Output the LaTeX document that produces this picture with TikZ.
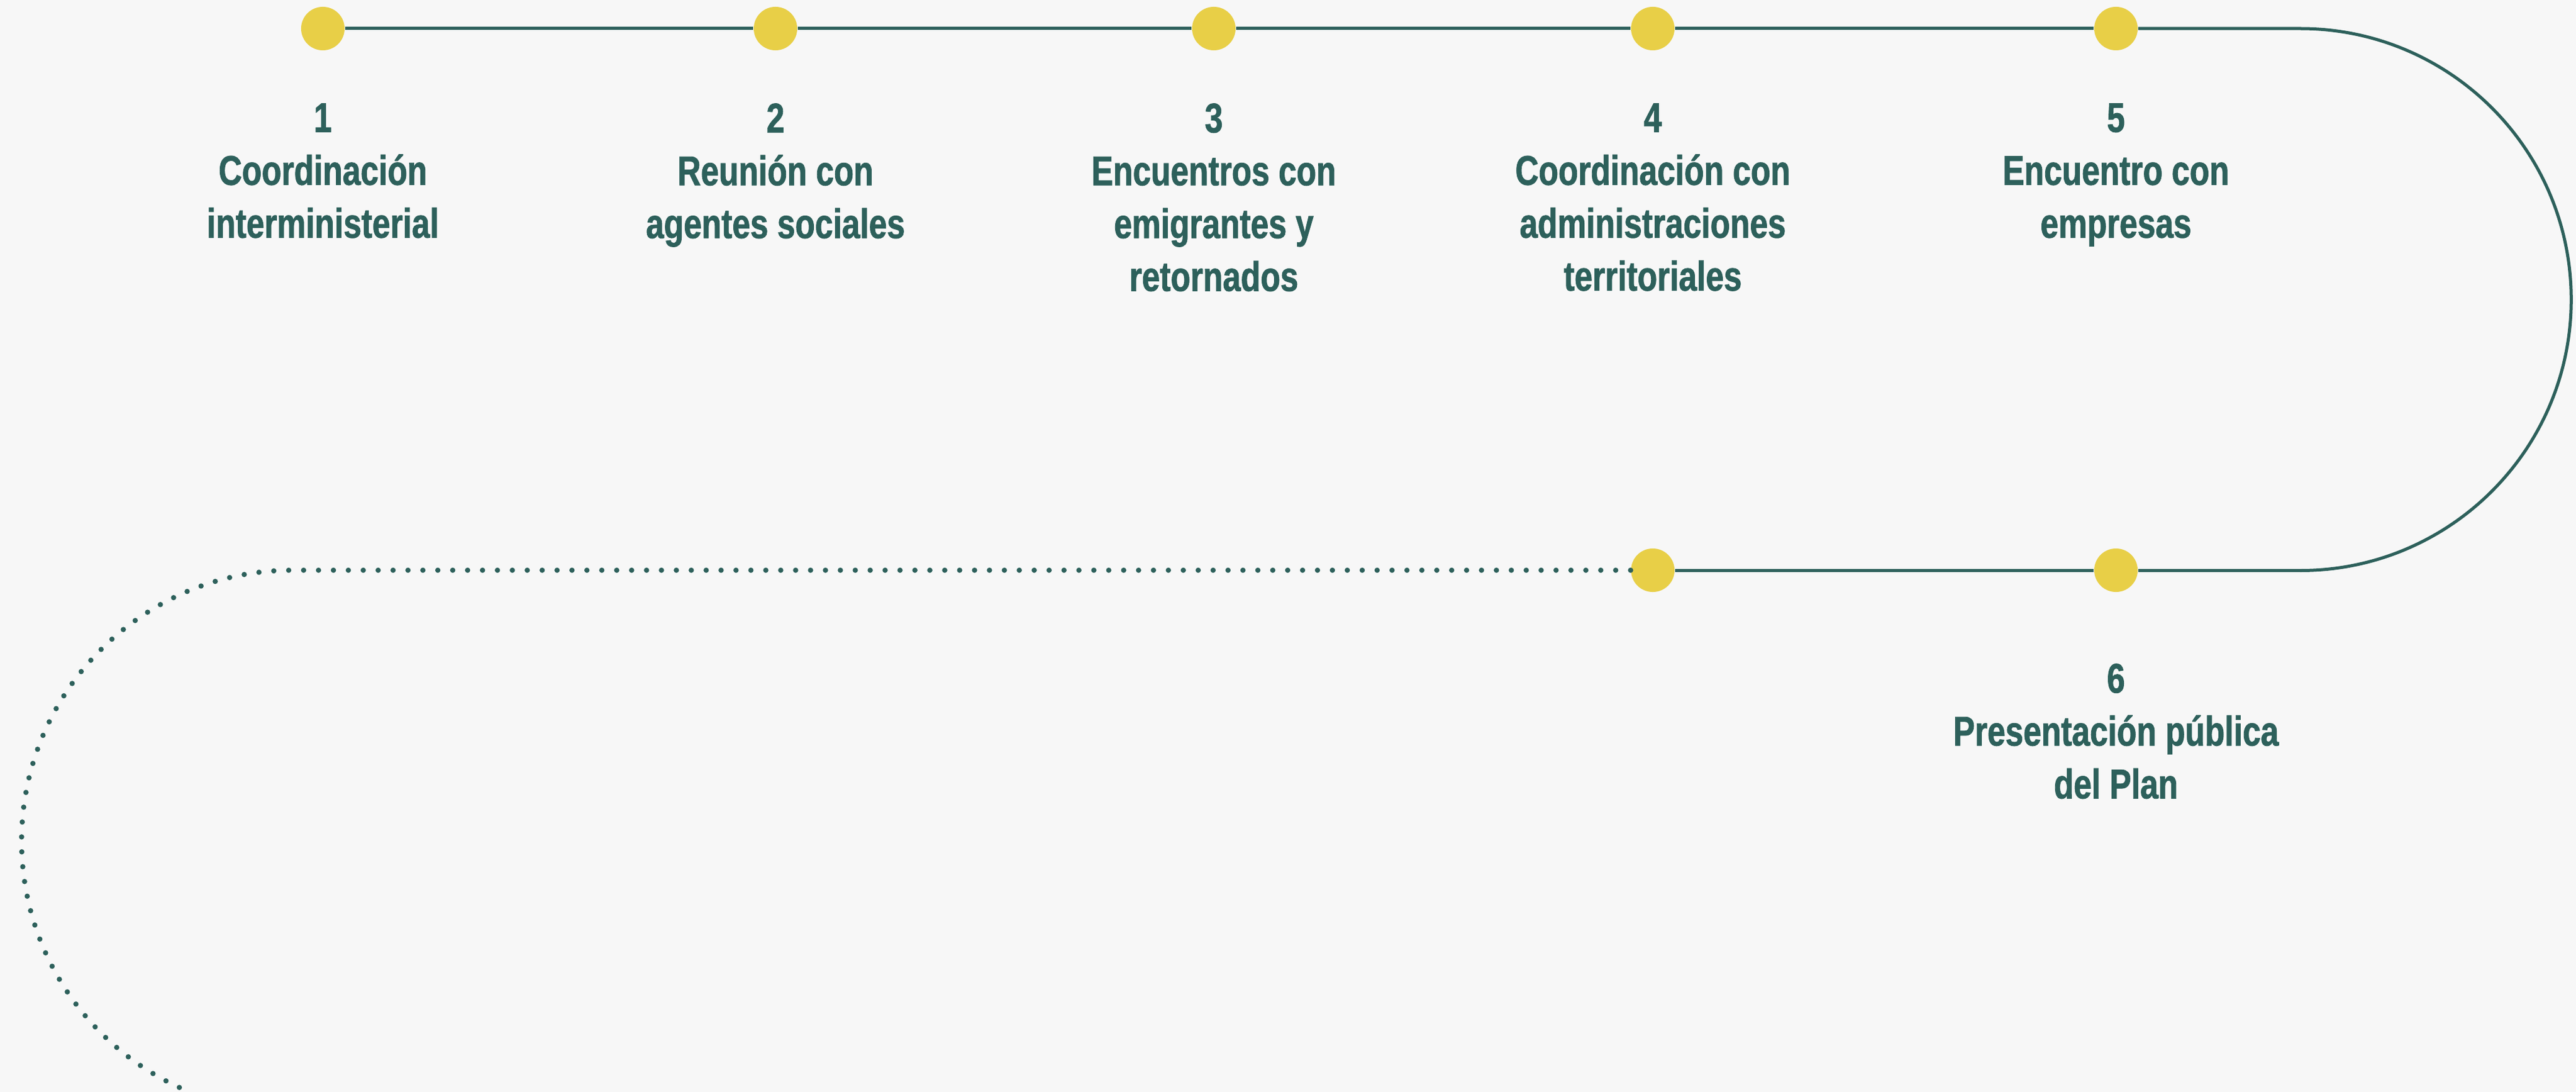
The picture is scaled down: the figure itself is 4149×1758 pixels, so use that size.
\documentclass[tikz,border=0pt]{standalone}
\usepackage{fontspec}
\setmainfont{Liberation Sans}[FakeStretch=0.78, BoldFeatures={FakeBold=1.2}]
\usepackage{tikz}
\usetikzlibrary{positioning}

\definecolor{pathteal}{HTML}{2D605B}
\definecolor{stopyellow}{HTML}{E8CF47}
\definecolor{paper}{HTML}{F7F7F7}

\tikzset{
  stopdot/.style={circle, fill=stopyellow, minimum size=0.7cm, inner sep=0pt},
  stagelabel/.style={align=center, inner sep=0pt, text=pathteal,
    font=\bfseries\fontsize{19pt}{24.2pt}\selectfont},
  track/.style={draw=pathteal, line width=0.05cm},
  pending/.style={draw=pathteal, line width=0.085cm, line cap=round,
    dash pattern=on 0pt off 0.24cm}
}

\begin{document}
\begin{tikzpicture}[x=0.01cm, y=-0.01cm]
\fill[paper] (0,0) rectangle (4149,1758);
\useasboundingbox (0,0) rectangle (4149,1758);

% stops
\node[stopdot] (s1) at (520,46) {};
\node[stopdot] (s2) at (1249,46) {};
\node[stopdot] (s3) at (1955,46) {};
\node[stopdot] (s4) at (2662,46) {};
\node[stopdot] (s5) at (3408,46) {};
\node[stopdot] (s6) at (3408,918) {};
\node[stopdot] (s7) at (2662,918) {};
\coordinate (TurnTop) at (3705,46);
\coordinate (TurnBot) at (3705,918);
\coordinate (LoopTop) at (471,918);

% track
\draw[track] (s1) -- (s2);
\draw[track] (s2) -- (s3);
\draw[track] (s3) -- (s4);
\draw[track] (s4) -- (s5);
\draw[track] (s5) -- (TurnTop) arc[start angle=90, end angle=-90, radius=4.36cm];
\draw[track] (TurnBot) -- (s6);
\draw[track] (s6) -- (s7);
\draw[pending] (s7.west) -- (LoopTop) arc[start angle=90, end angle=248, radius=4.36cm];

% labels
\node[stagelabel, below=0.84cm of s1] (l1) {1\\Coordinación\\interministerial};
\node[stagelabel, below=0.84cm of s2] (l2) {2\\Reunión con\\agentes sociales};
\node[stagelabel, below=0.84cm of s3] (l3) {3\\Encuentros con\\emigrantes y\\retornados};
\node[stagelabel, below=0.84cm of s4] (l4) {4\\Coordinación con\\administraciones\\territoriales};
\node[stagelabel, below=0.84cm of s5] (l5) {5\\Encuentro con\\empresas};
\node[stagelabel, below=1.14cm of s6] (l6) {6\\Presentación pública\\del Plan};
\end{tikzpicture}
\end{document}
